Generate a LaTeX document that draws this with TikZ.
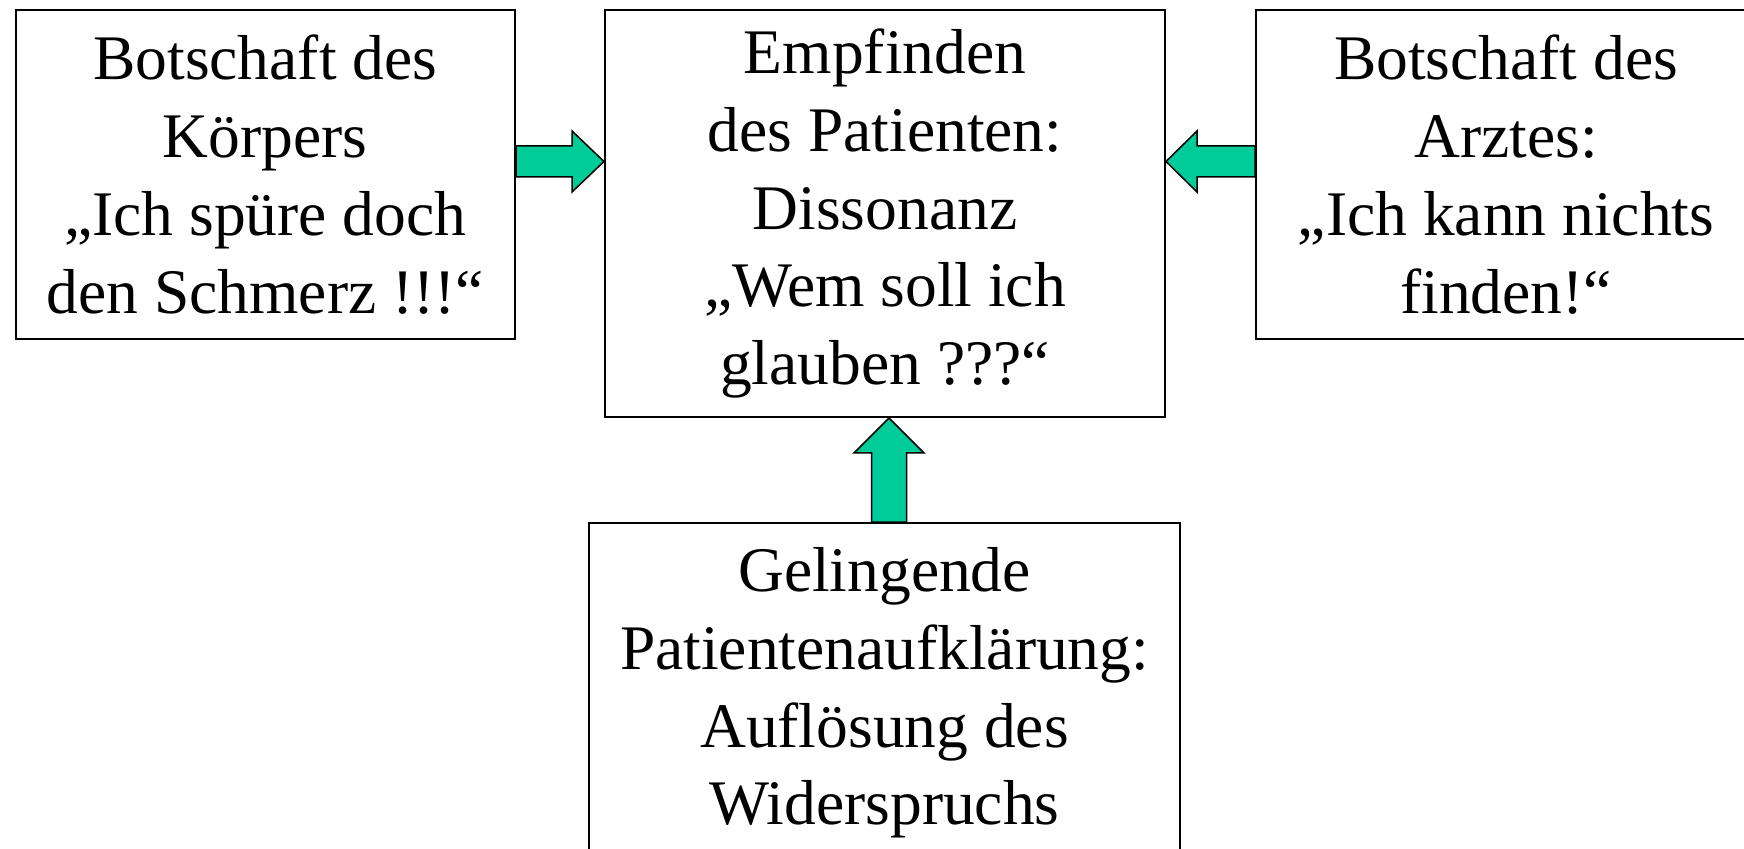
\documentclass[tikz,border=0pt]{standalone}
\usepackage{fontspec}
\setmainfont{Liberation Serif}
\usetikzlibrary{calc}
\tikzset{>=latex}
\definecolor{pfeilgruen}{RGB}{0,204,153}
\tikzstyle{kasten}=[draw,line width=1pt,rectangle,align=center,inner sep=0pt,font=\fontsize{31.75}{38.9}\selectfont]
\tikzset{pfeil/.style n args={3}{draw,fill=pfeilgruen,line width=0.75pt,line join=miter,
  to path={let \p1=($(\tikztotarget)!#3!(\tikztostart)$) in
    ($(\tikztostart)!#1!90:(\tikztotarget)$) -- ($(\p1)!#1!-90:(\tikztostart)$)
    -- ($(\p1)!#2!-90:(\tikztostart)$) -- (\tikztotarget)
    -- ($(\p1)!#2!90:(\tikztostart)$) -- ($(\p1)!#1!90:(\tikztostart)$)
    -- ($(\tikztostart)!#1!-90:(\tikztotarget)$) -- cycle}}}

\begin{document}
\begin{tikzpicture}[x=0.5pt,y=-0.5pt]
  \useasboundingbox (0,0) rectangle (1744,849);
  \clip (0,0) rectangle (1744,849);
  % Kaesten
  \node[kasten,minimum width=249.75pt,minimum height=164.5pt] (koerper) at (265.25,174.5)
    {Botschaft des\\Körpers\\„Ich spüre doch\\den Schmerz !!!“};
  \node[kasten,minimum width=280pt,minimum height=203.5pt] (empfinden) at (885,213.5)
    {Empfinden\\des Patienten:\\Dissonanz\\„Wem soll ich\\glauben ???“};
  \node[kasten,minimum width=250pt,minimum height=164.5pt] (arzt) at (1506,174.5)
    {Botschaft des\\Arztes:\\„Ich kann nichts\\finden!“};
  \node[kasten,minimum width=295.5pt,minimum height=170pt] (aufklaerung) at (884.5,693)
    {Gelingende\\Patientenaufklärung:\\Auflösung des\\Widerspruchs};
  % Pfeile
  \coordinate (k1) at ([yshift=6.5pt]koerper.east);
  \coordinate (a1) at ([yshift=6.5pt]arzt.west);
  \coordinate (p1) at ([xshift=2.25pt]aufklaerung.north);
  \draw[pfeil={7.75pt}{15.25pt}{16pt}] (k1) to (k1 -| empfinden.west);
  \draw[pfeil={7.75pt}{15.25pt}{15.5pt}] (a1) to (a1 -| empfinden.east);
  \draw[pfeil={8.75pt}{17.5pt}{17.5pt}] (p1) to (p1 |- empfinden.south);
\end{tikzpicture}
\end{document}
